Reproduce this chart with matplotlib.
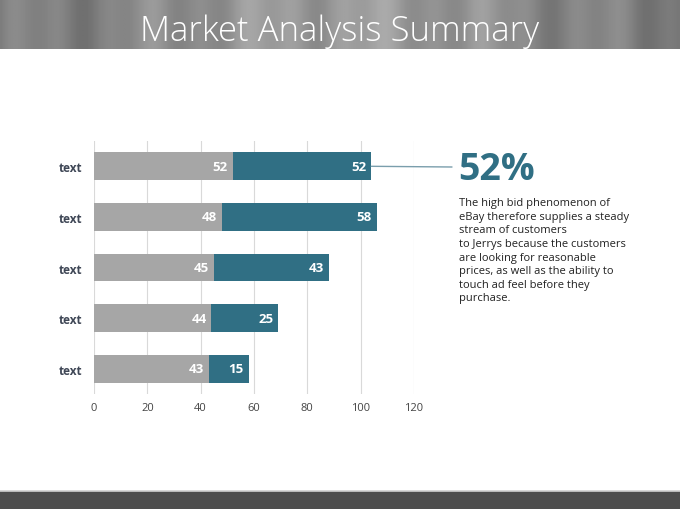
import numpy as np
import matplotlib.pyplot as plt

# data
categories = ['text', 'text', 'text', 'text', 'text']   # top to bottom
series_a = [52, 48, 45, 44, 43]
series_b = [52, 58, 43, 25, 15]
x_ticks = [0, 20, 40, 60, 80, 100, 120]

highlight = '52%'
body = ("The high bid phenomenon of\n"
        "eBay therefore supplies a steady\n"
        "stream of customers\n"
        "to Jerrys because the customers\n"
        "are looking for reasonable\n"
        "prices, as well as the ability to\n"
        "touch ad feel before they\n"
        "purchase.")

gray = '#a6a6a6'
teal = '#306f84'

plt.rcParams['font.family'] = ['Open Sans', 'DejaVu Sans']

fig = plt.figure(figsize=(6.8, 5.1), dpi=100)

# header banner (soft grey shading in place of the stone texture)
hdr = fig.add_axes([0, 1 - 50 / 510, 1, 50 / 510])
xs = np.linspace(0, 1, 400)
shade = 0.55 - 0.06 * np.cos(xs * np.pi * 2) + 0.04 * np.sin(xs * 37) + 0.03 * np.sin(xs * 91)
hdr.imshow(np.tile(shade, (20, 1)), cmap='gray', vmin=0, vmax=1, aspect='auto',
           extent=[0, 1, 0, 1])
hdr.set_xlim(0, 1)
hdr.set_ylim(0, 1)
hdr.axis('off')
fig.text(0.5, 1 - 32 / 510, 'Market Analysis Summary', color='white', fontsize=25,
         fontweight='light', ha='center', va='center')

# footer bar
ftr = fig.add_axes([0, 0, 1, 18 / 510])
ftr.set_facecolor('#4d4d4d')
ftr.set_xticks([])
ftr.set_yticks([])
for s in ftr.spines.values():
    s.set_visible(False)
fig.add_artist(plt.Line2D([0, 1], [18.5 / 510, 18.5 / 510], color='#d0d0d0', lw=1.2))

# chart
ax = fig.add_axes([94 / 680, 1 - 395 / 510, 320 / 680, 253 / 510])
y = np.arange(len(categories))[::-1]
ax.barh(y, series_a, height=0.55, color=gray, zorder=2)
ax.barh(y, series_b, left=series_a, height=0.55, color=teal, zorder=2)

for yi, a, b in zip(y, series_a, series_b):
    ax.text(a - 1.8, yi, str(a), color='white', fontsize=9.5, fontweight='bold',
            ha='right', va='center', zorder=3)
    ax.text(a + b - 1.8, yi, str(b), color='white', fontsize=9.5, fontweight='bold',
            ha='right', va='center', zorder=3)

ax.set_xlim(0, 120)
ax.set_ylim(-0.5, 4.5)
ax.set_xticks(x_ticks)
ax.set_xticklabels([str(t) for t in x_ticks], fontsize=8, color='#444444')
ax.set_yticks(y)
ax.set_yticklabels(categories, fontsize=8.5, fontweight='bold', color='#3f4756')
ax.tick_params(length=0, pad=6)
ax.tick_params(axis='y', pad=8.5)
ax.grid(axis='x', color='#d9d9d9', lw=0.8, zorder=0)
for s in ax.spines.values():
    s.set_visible(False)

# callout line from the top bar to the highlight
top_end = series_a[0] + series_b[0]
ax.annotate('', xy=(top_end, y[0]), xytext=(452 / 680, 1 - 168 / 510),
            textcoords='figure fraction',
            arrowprops=dict(arrowstyle='-', color='#7a9eac', lw=1, shrinkA=0, shrinkB=0),
            annotation_clip=False)

fig.text(458 / 680, 1 - 170 / 510, highlight, color=teal, fontsize=27,
         fontweight='bold', ha='left', va='center')
fig.text(459 / 680, 1 - 198 / 510, body, color='#222222', fontsize=8.0,
         ha='left', va='top', linespacing=1.33)

fig.savefig('out.png', dpi=100, facecolor='white')
